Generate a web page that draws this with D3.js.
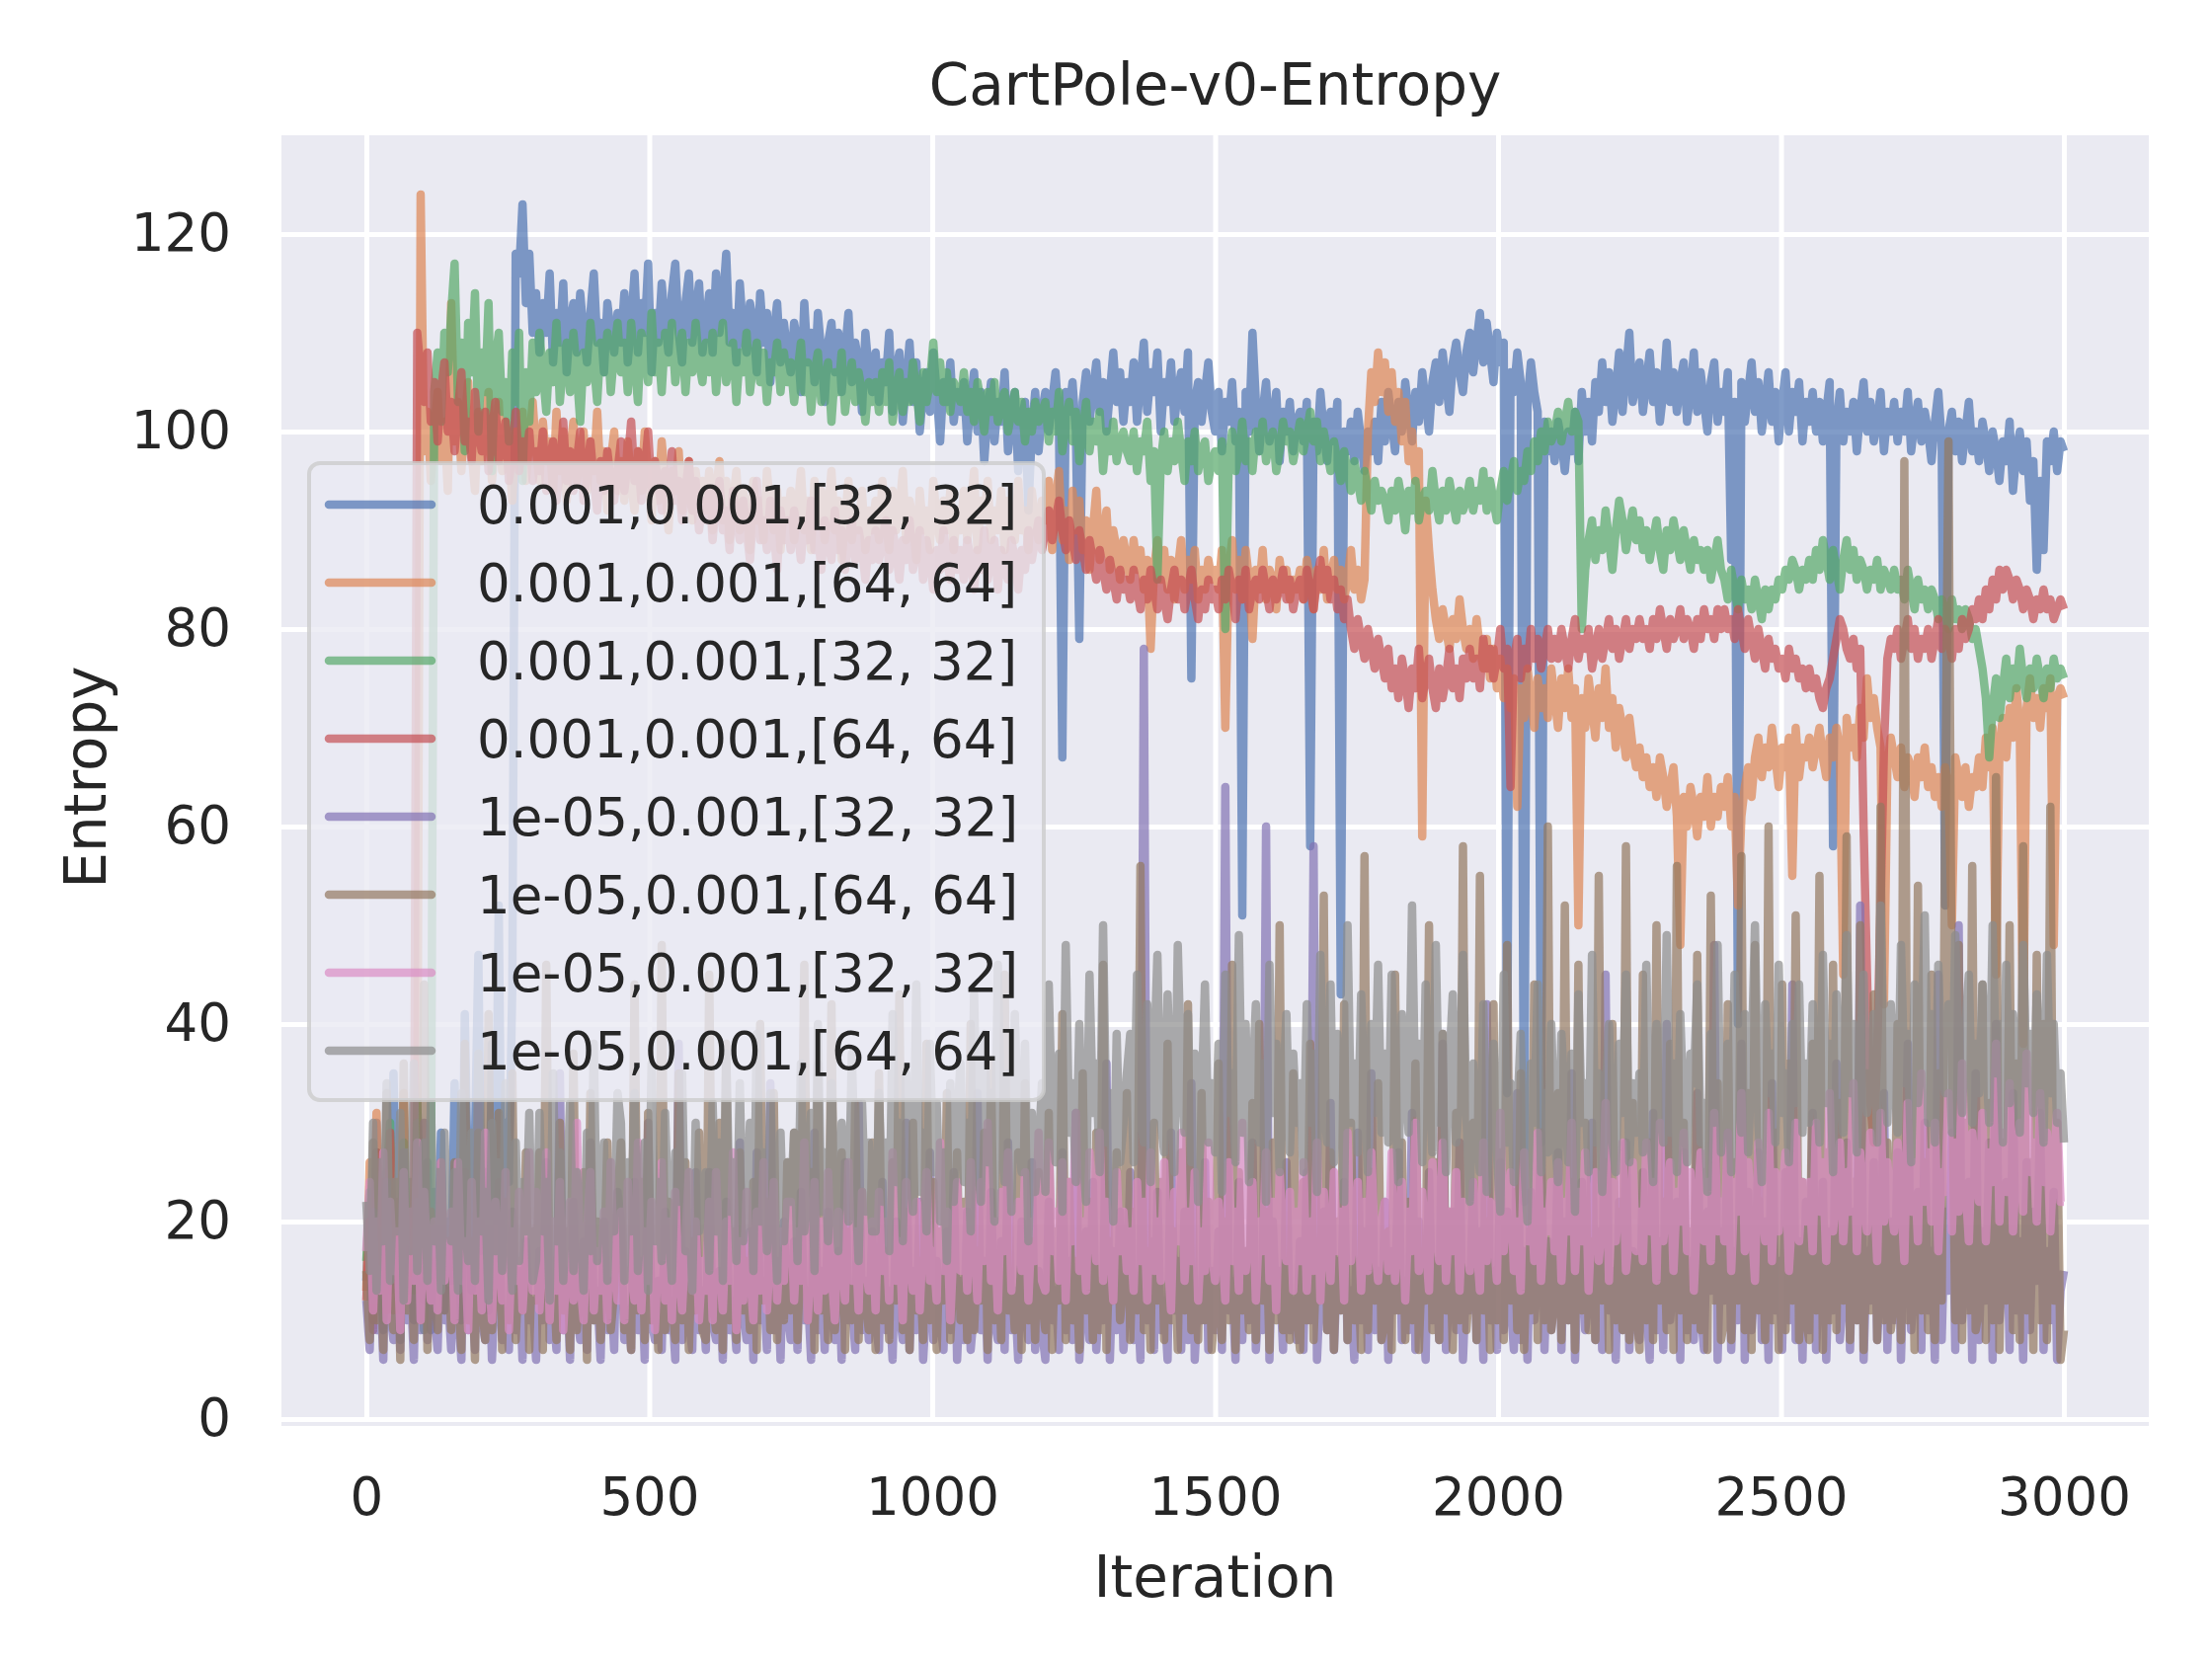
<!DOCTYPE html>
<html>
<head>
<meta charset="utf-8">
<script src="https://cdn.jsdelivr.net/npm/d3@7"></script>
<style>
body { margin: 0; background: #fff; }
text { font-family: "DejaVu Sans", sans-serif; fill: #262626; }
</style>
</head>
<body>
<script>
// one sample every 6 iterations, 0..3000; each row below = 150 iterations
const step = 6;

const labels = [
    "0.001,0.001,[32, 32]",
    "0.001,0.001,[64, 64]",
    "0.001,0.001,[32, 32]",
    "0.001,0.001,[64, 64]",
    "1e-05,0.001,[32, 32]",
    "1e-05,0.001,[64, 64]",
    "1e-05,0.001,[32, 32]",
    "1e-05,0.001,[64, 64]"
];

const colors = ["#4C72B0", "#DD8452", "#55A868", "#C44E52", "#8172B3", "#937860", "#DA8BC3", "#8C8C8C"];

const xTicks = [0, 500, 1000, 1500, 2000, 2500, 3000];
const yTicks = [0, 20, 40, 60, 80, 100, 120];

const blue = [
14,22,11,30,17,9,25,13,35,19,8,27,15,21,10,32,18,12,26,9,23,16,29,11,20,
14,34,18,10,41,22,13,28,47,17,25,11,38,20,52,15,30,24,44,118,116,123,113,118,110,
114,108,113,110,116,107,112,109,115,106,111,113,108,114,110,107,112,116,109,111,106,113,110,108,112,
109,114,107,111,116,108,113,110,117,106,112,109,115,111,108,114,117,110,107,113,116,109,112,115,108,
111,114,108,116,110,113,118,109,112,107,115,110,108,113,111,106,114,109,112,105,110,113,107,111,108,
106,111,109,104,113,107,110,105,112,108,103,109,111,106,110,104,108,112,105,109,107,102,110,106,104,
108,103,107,105,110,102,106,108,101,105,109,103,107,100,104,106,102,108,104,99,105,103,107,101,104,
102,105,99,103,106,100,104,97,102,105,99,103,101,106,98,102,104,96,101,103,92,100,104,98,102,
104,100,103,106,101,67,104,102,105,100,79,103,106,101,104,107,102,105,100,104,108,103,106,101,105,
103,107,101,105,109,102,106,104,108,100,105,103,107,101,104,106,102,108,75,103,105,101,104,107,102,
100,104,98,103,101,105,99,102,51,104,100,110,103,98,102,105,99,101,104,97,102,100,103,98,101,
102,99,103,58,101,98,104,100,97,102,99,103,43,100,98,101,97,102,99,96,100,98,101,97,103,
99,104,101,98,103,100,105,102,99,104,101,106,103,100,105,107,103,108,105,102,107,109,106,104,108,
110,106,109,112,107,111,108,105,110,107,109,33,106,104,108,105,22,103,107,104,102,28,101,98,100,
97,101,99,96,100,98,102,97,104,100,103,99,105,102,107,103,106,101,104,108,102,106,110,103,105,
107,102,105,108,103,106,101,104,109,103,106,102,105,107,101,104,108,102,106,103,100,105,107,101,104,
102,106,87,103,40,105,101,104,107,102,105,100,103,106,101,104,99,103,106,100,104,102,105,99,103,
101,104,100,103,99,102,105,58,101,104,99,102,100,103,98,102,105,100,103,99,101,104,98,102,100,
103,99,102,100,104,98,101,103,99,102,100,97,101,104,99,52,100,102,98,101,97,100,103,98,100,
97,101,99,96,100,98,95,99,97,101,94,98,100,96,99,93,97,86,95,88,99,97,100,96,99,
98
];

const orange = [
13,26,10,31,18,22,14,28,11,24,17,33,12,20,15,27,124,98,102,95,100,104,97,101,94,
113,99,103,96,101,105,98,94,102,97,100,104,95,99,103,96,101,98,93,100,97,102,95,99,103,
98,95,101,97,99,94,102,96,100,93,98,101,95,97,100,94,99,96,102,95,98,92,97,100,94,
97,93,99,95,92,98,94,100,96,91,97,93,99,95,90,96,94,98,92,95,97,91,96,93,95,
92,96,90,94,97,91,95,89,93,96,90,94,92,88,95,91,93,89,96,92,90,94,88,93,91,
94,89,92,96,90,93,88,95,91,94,89,92,96,90,93,87,91,95,89,92,90,94,88,92,90,
93,89,95,91,88,94,90,92,96,89,93,91,87,94,90,92,88,95,91,89,93,90,94,88,92,
90,94,89,92,96,88,93,91,95,89,92,90,94,88,93,91,89,95,90,92,88,94,91,89,93,
91,95,88,93,96,89,92,87,94,90,93,88,91,86,90,94,87,89,92,86,90,88,85,89,87,
85,89,86,88,84,87,78,86,89,85,88,84,87,83,86,89,84,87,85,88,83,86,84,87,85,
86,84,88,70,86,89,84,87,83,88,85,79,86,84,88,83,86,85,82,87,84,86,83,85,84,
86,83,87,85,82,86,84,88,83,85,87,84,86,83,85,88,84,86,83,85,100,106,103,108,104,
107,102,106,101,104,99,103,97,100,95,98,59,93,88,84,81,79,82,80,78,81,79,83,80,78,
80,77,81,78,76,79,75,78,74,77,73,76,72,75,62,74,71,76,73,70,75,72,74,71,76,
73,70,75,72,76,71,74,50,73,70,75,72,69,74,71,76,70,73,68,72,70,67,71,68,66,
68,65,67,64,66,63,67,65,62,64,66,61,48,63,60,64,62,59,63,61,65,60,63,61,64,
62,65,60,63,52,61,64,66,63,67,69,65,68,66,70,67,64,68,66,69,55,70,65,68,67,
69,66,68,70,67,65,69,67,70,68,45,71,68,70,67,72,69,75,71,73,70,68,42,66,69,
67,65,68,64,67,66,63,67,65,68,64,66,63,65,62,66,64,50,67,65,63,66,62,65,64,
67,64,69,66,70,45,68,71,67,72,69,74,70,38,72,75,71,73,70,74,72,75,48,73,74,
73
];

const green = [
16,23,12,27,19,10,25,30,14,21,11,28,18,24,13,32,17,9,26,20,104,108,101,110,106,
112,117,103,109,98,111,106,114,100,108,104,113,96,107,110,102,105,99,108,103,110,95,106,101,109,
104,110,106,102,108,105,111,103,107,109,104,110,106,101,108,105,111,107,103,109,106,110,104,108,111,
106,109,104,111,107,103,110,108,105,112,106,109,104,110,107,111,105,108,110,104,109,106,111,107,105,
109,106,110,104,108,111,105,107,109,103,108,106,110,104,107,109,105,108,103,107,106,109,104,108,105,
107,103,106,109,104,107,102,106,108,103,105,107,101,106,104,108,102,105,107,103,106,104,101,105,103,
105,102,106,103,107,101,104,106,102,105,103,107,104,101,106,103,105,109,104,107,103,106,102,105,104,
103,106,102,104,101,105,103,100,104,102,105,101,103,104,100,102,104,101,103,99,102,100,103,101,102,
103,99,102,100,104,98,101,103,99,102,97,100,103,98,101,99,102,96,100,98,101,97,99,100,98,
97,100,96,99,98,101,95,98,85,97,100,96,99,97,101,98,95,99,97,100,96,98,99,95,97,
98,96,99,80,97,100,96,98,101,97,99,96,100,98,101,97,99,100,96,98,101,99,100,97,99,
101,98,100,102,99,101,97,100,98,96,99,97,95,98,96,94,97,95,93,96,94,92,95,93,94,
93,91,94,92,95,93,90,94,92,95,91,93,94,92,96,93,91,94,92,95,93,91,94,92,93,
95,92,94,93,96,92,95,93,91,94,96,93,95,97,94,96,95,98,96,99,97,100,98,101,99,
100,102,99,101,103,100,102,101,80,86,89,91,87,90,88,92,89,86,90,93,91,88,90,92,89,
91,88,90,87,89,91,88,86,90,88,91,89,87,90,88,86,89,87,88,86,88,85,87,89,86,
85,83,86,84,82,85,83,84,82,85,83,81,84,82,84,83,85,84,86,85,87,86,84,86,85,
87,85,88,86,89,87,85,88,86,84,87,89,86,88,85,87,86,84,86,85,87,84,86,85,84,
86,84,85,83,86,84,82,85,83,84,82,84,83,81,83,82,80,83,81,82,80,82,81,79,80,
78,76,73,67,72,75,71,74,77,73,76,74,78,75,73,76,74,77,75,73,76,74,77,75,76,
75
];

const red = [
12,20,9,27,16,24,11,29,14,22,18,25,13,21,17,110,106,103,108,101,105,99,104,107,100,
103,98,102,106,99,101,97,104,100,98,102,96,100,103,97,99,101,95,98,102,96,99,97,100,95,
98,96,100,94,97,99,93,96,101,95,98,94,97,100,93,96,99,95,92,97,94,98,95,93,96,
99,94,97,101,95,98,93,96,100,94,97,95,92,96,94,98,93,95,91,94,97,92,95,90,93,
91,94,89,93,95,90,92,88,94,91,89,93,90,87,92,95,89,91,88,93,90,86,92,89,91,
88,92,90,87,91,89,93,88,90,86,91,89,87,92,88,90,86,89,91,87,90,88,85,89,87,
90,87,89,91,86,90,88,85,89,87,91,86,88,90,85,89,87,84,88,86,90,87,85,89,86,
88,85,89,87,84,88,86,90,85,87,89,84,88,86,85,89,87,84,88,86,90,87,89,91,88,
90,92,89,91,93,90,88,91,89,87,90,88,86,89,87,85,88,86,84,87,85,83,86,84,85,
83,86,84,82,85,83,86,84,82,85,83,81,84,86,83,85,82,84,86,83,81,84,82,85,83,
84,82,85,83,86,84,81,85,83,86,82,84,85,83,86,84,82,85,83,84,86,83,85,82,84,
85,83,86,84,82,85,87,84,86,83,85,82,84,81,83,80,78,81,79,77,80,78,76,79,77,
75,78,74,76,73,77,75,72,76,74,78,73,75,77,74,72,76,73,75,78,74,76,73,77,75,
78,75,77,74,79,76,78,75,77,80,76,78,64,77,79,75,78,76,80,77,79,76,78,80,77,
79,77,80,78,76,79,81,77,79,78,80,76,78,80,77,79,81,78,80,77,79,81,78,80,79,
81,79,80,78,81,79,82,80,78,81,79,80,82,79,81,80,78,81,79,82,80,81,79,82,80,
82,80,81,79,82,80,78,81,79,77,80,78,76,79,77,78,76,77,75,78,76,77,75,76,74,
76,74,75,73,72,74,75,77,79,81,80,78,77,79,76,78,60,45,32,28,37,52,68,77,79,
78,80,77,79,81,78,80,77,79,78,80,77,79,81,78,80,79,77,80,78,81,79,80,82,81,
83,81,84,82,85,83,86,84,86,85,83,85,84,82,84,83,81,83,82,84,82,83,81,82,83,
82
];

const purple = [
12,7,21,9,15,6,24,11,8,18,7,27,10,14,6,22,9,30,8,16,11,7,19,10,13,
7,20,11,6,25,9,13,7,32,10,8,19,6,14,24,8,11,7,21,9,15,6,18,10,12,
6,17,10,26,8,12,7,35,9,15,6,22,11,8,18,7,28,10,13,6,20,9,14,7,23,
20,8,11,7,24,9,16,6,30,10,8,14,7,21,9,12,6,38,8,17,10,7,25,9,13,
7,25,10,8,15,6,22,9,12,7,28,11,8,19,6,27,10,14,7,34,9,16,6,20,11,
8,18,7,23,10,13,6,29,9,15,7,21,11,8,17,6,26,10,12,7,32,9,14,8,19,
10,7,24,9,13,6,20,11,8,30,7,15,9,22,6,12,27,8,16,10,7,19,9,25,6,
14,8,21,7,11,33,9,16,6,23,10,8,18,7,28,9,13,6,20,11,8,26,7,15,9,
6,22,10,13,7,27,9,16,8,31,6,12,19,8,24,7,14,10,36,6,17,9,21,7,12,
25,8,14,6,78,10,18,7,23,9,12,6,29,11,16,7,21,8,34,6,13,10,26,7,15,
9,19,7,64,11,14,6,24,8,17,10,28,7,13,9,60,6,20,11,15,7,26,9,12,8,
18,7,25,10,58,6,14,21,9,32,7,16,11,24,8,13,6,29,10,19,7,35,9,15,8,
22,6,17,11,27,8,14,9,31,7,20,12,6,25,10,16,8,38,7,13,21,9,28,6,15,
11,24,8,19,6,42,10,15,7,26,9,21,12,7,33,8,17,6,23,10,14,29,7,18,9,
13,27,7,20,10,35,6,16,24,9,12,30,8,19,7,45,11,15,6,22,9,28,7,17,10,
8,25,12,6,31,9,18,7,40,10,14,22,6,27,9,16,8,33,11,7,21,13,48,6,19,
12,29,7,17,10,38,6,23,9,14,27,8,20,6,34,11,16,7,25,10,44,8,18,6,22,
9,31,7,15,24,6,19,11,36,8,13,28,7,21,10,52,6,17,12,26,8,14,33,7,20,
10,27,6,18,38,9,14,23,7,30,11,17,6,45,8,21,13,29,7,50,10,16,24,6,35,
8,19,12,28,6,40,10,15,24,7,33,11,18,6,26,9,21,14,31,7,17,10,23,6,13,
15
];

const brown = [
15,8,28,10,19,7,33,12,9,24,6,36,11,17,8,30,10,44,7,21,13,9,26,11,18,
9,26,13,7,38,10,18,6,29,12,8,41,9,15,31,7,22,10,35,8,16,11,27,7,19,
12,27,7,46,10,16,8,30,11,19,7,37,9,14,25,6,33,10,20,8,15,28,9,13,22,
28,9,15,7,44,11,24,8,31,10,17,7,48,9,22,12,8,35,10,26,7,18,11,29,9,
8,45,12,9,30,7,38,10,19,8,27,11,16,9,24,7,40,12,22,9,33,8,17,10,26,
11,29,8,18,46,10,25,7,36,11,20,8,42,9,14,27,7,19,10,32,8,23,12,9,28,
7,35,10,17,8,26,12,43,9,21,7,30,11,16,8,38,10,24,7,19,12,33,8,15,27,
10,22,8,40,9,17,12,29,7,36,10,20,8,45,11,15,9,27,7,34,10,18,8,25,12,
9,31,7,19,12,41,8,24,10,16,7,35,11,22,8,29,9,46,7,18,12,27,10,14,33,
8,21,11,56,9,17,7,30,12,24,8,38,10,19,7,27,11,42,9,15,8,33,10,22,7,
12,36,8,20,10,46,7,25,11,17,9,32,8,40,12,21,7,28,10,50,9,16,8,35,11,
7,24,10,38,8,18,12,53,9,27,7,20,11,42,8,30,10,16,7,57,9,25,12,34,8,
10,19,7,45,11,28,8,22,10,36,7,17,12,50,9,26,8,39,11,21,7,31,10,58,9,
14,30,8,55,11,20,7,42,10,27,8,48,12,23,9,35,7,19,11,44,8,29,10,60,9,
12,33,8,52,10,24,7,46,11,30,9,18,8,55,12,26,7,40,10,21,9,58,8,32,11,
7,45,10,28,8,50,12,22,9,38,7,56,11,30,8,19,10,47,9,25,7,53,12,34,8,
10,42,8,26,12,57,9,33,7,48,11,22,8,60,10,29,7,44,9,36,12,51,8,24,10,
8,38,11,55,7,27,10,46,9,32,12,59,8,24,10,50,7,35,11,43,8,62,10,28,9,
12,40,8,97,10,30,7,54,11,26,9,45,8,35,12,60,99,38,10,48,8,30,11,56,9,
11,44,8,32,10,65,7,28,12,50,9,36,8,58,11,26,7,47,10,40,8,62,12,30,6,
9
];

const pink = [
17,24,11,20,13,27,10,22,15,19,9,25,12,21,14,28,10,23,16,12,20,11,26,14,18,
21,10,26,14,18,9,24,13,20,11,29,15,10,22,17,12,25,9,19,14,23,11,17,27,13,
23,11,18,27,10,20,13,24,9,16,22,12,30,14,10,19,25,11,17,13,21,10,26,15,12,
21,10,24,15,12,28,11,19,14,22,9,17,26,12,20,10,23,15,11,18,25,13,20,10,16,
13,22,10,25,16,11,20,14,27,9,18,12,23,15,10,21,13,26,11,17,24,12,19,14,22,
22,12,19,14,28,10,16,24,11,20,13,25,15,10,21,17,12,26,14,19,11,23,16,13,20,
11,23,15,20,12,27,14,18,10,24,16,13,22,11,19,25,14,17,12,28,15,21,10,18,24,
15,21,13,26,18,12,24,16,30,14,20,11,23,17,27,13,19,22,15,25,12,20,16,29,14,
13,28,17,21,14,26,12,24,18,31,15,20,13,27,19,16,29,14,22,18,12,25,17,21,15,
19,13,24,16,22,12,27,15,20,14,26,17,11,23,18,29,14,21,16,25,12,19,15,28,17,
14,22,18,12,26,16,21,13,30,15,19,24,12,20,17,27,14,22,11,25,18,16,23,13,21,
16,26,13,20,15,28,12,23,18,14,25,17,21,12,29,16,19,24,13,22,15,27,18,14,20,
22,15,27,14,19,24,12,21,17,30,15,23,18,13,26,20,16,28,14,21,17,25,13,22,19,
15,24,18,13,28,16,22,19,14,31,17,21,25,15,20,13,27,18,23,16,29,14,21,19,24,
17,26,14,22,19,30,15,23,18,27,13,21,25,16,20,32,14,24,18,22,28,15,19,26,17,
21,16,28,19,24,14,30,18,22,26,15,23,20,29,17,25,13,21,27,18,24,16,31,19,22,
18,29,15,24,21,33,17,26,20,14,28,22,18,31,16,25,19,23,27,15,21,30,18,24,20,
24,17,30,21,26,16,33,19,23,28,18,25,21,34,17,27,22,19,29,24,16,31,20,26,22,
19,28,23,16,32,21,26,18,35,22,27,20,30,17,25,23,33,19,28,21,36,24,18,29,25,
22,31,18,27,24,38,20,29,23,34,19,26,30,21,37,25,28,20,33,24,29,19,26,31,22,
22
];

const gray = [
22,15,30,13,26,18,34,14,24,19,31,12,27,17,36,15,23,28,14,32,18,25,13,29,20,
18,25,13,33,20,16,29,14,37,19,23,12,30,17,26,15,34,21,13,28,16,24,19,31,14,
16,31,19,24,12,35,18,27,14,22,32,15,25,20,13,29,17,38,16,23,28,14,26,19,33,
30,14,26,19,33,15,21,28,13,36,18,24,16,31,20,14,27,22,35,17,25,13,30,19,23,
25,15,32,19,28,14,37,21,26,16,34,18,23,30,15,39,20,27,17,33,22,14,29,18,26,
22,29,16,36,19,25,31,15,40,21,27,18,34,23,17,30,26,20,37,24,16,32,21,28,19,
19,33,22,28,17,41,24,30,18,35,26,21,44,23,29,19,38,25,32,20,27,16,34,22,30,
36,24,30,19,43,27,22,39,26,33,20,46,28,24,35,21,41,29,25,38,18,31,23,27,34,
23,44,30,26,37,21,48,29,34,24,40,27,22,45,31,36,25,50,28,33,20,39,26,30,35,
39,26,45,31,28,42,24,36,47,30,27,43,33,25,48,35,29,41,26,37,22,32,44,28,34,
27,38,23,45,31,35,26,49,29,40,24,34,42,28,36,22,46,31,38,25,33,41,27,37,30,
34,25,42,30,37,23,47,32,28,44,26,39,35,22,50,30,36,27,43,33,25,40,31,46,29,
37,28,45,32,24,41,35,29,52,31,38,26,44,34,27,48,30,39,25,36,43,28,33,47,31,
22,36,29,25,42,23,32,38,27,21,45,28,34,24,31,39,26,20,36,30,44,25,33,27,40,
29,24,39,32,26,37,21,43,30,34,25,47,28,35,23,32,40,28,25,38,31,45,26,34,29,
35,27,46,30,24,40,33,28,49,29,36,25,41,31,26,37,34,44,28,32,23,39,30,48,27,
32,38,25,45,34,29,41,27,36,50,30,24,42,33,37,28,46,31,35,26,40,32,44,29,36,
30,42,35,28,47,32,38,25,43,35,29,49,33,40,27,37,45,31,34,41,28,52,36,30,42,
35,29,48,34,39,26,44,32,37,51,30,41,28,46,35,33,42,29,49,36,31,40,45,30,38,
33,44,37,30,50,35,40,28,46,32,41,36,29,48,34,39,31,43,36,28,47,33,40,30,35,
28
];

const series = [blue, orange, green, red, purple, brown, pink, gray];

const w = 2240;
const h = 1680;
const plotLeft = 285, plotRight = 2176, plotTop = 137, plotBottom = 1437;

const xScale = d3.scaleLinear()
    .domain([-150, 3150])
    .range([plotLeft, plotRight]);

const yScale = d3.scaleLinear()
    .domain([0, 130])
    .range([plotBottom, plotTop]);

const svg = d3.select("body")
    .append("svg")
    .attr("width", w)
    .attr("height", h);

svg.append("rect")
    .attr("x", plotLeft)
    .attr("y", plotTop)
    .attr("width", plotRight - plotLeft)
    .attr("height", plotBottom - plotTop + 7)
    .attr("fill", "#EAEAF2");

svg.append("clipPath")
    .attr("id", "plot-clip")
    .append("rect")
    .attr("x", plotLeft)
    .attr("y", plotTop)
    .attr("width", plotRight - plotLeft)
    .attr("height", plotBottom - plotTop);

// grid
const xGrid = d3.axisBottom(xScale).tickValues(xTicks).tickSize(-(plotBottom - plotTop)).tickFormat("");
const yGrid = d3.axisLeft(yScale).tickValues(yTicks).tickSize(-(plotRight - plotLeft)).tickFormat("");

svg.append("g")
    .attr("transform", "translate(0," + plotBottom + ")")
    .call(xGrid)
    .call(g => g.select(".domain").remove())
    .selectAll("line")
    .attr("stroke", "#fff")
    .attr("stroke-width", 5);

svg.append("g")
    .attr("transform", "translate(" + plotLeft + ",0)")
    .call(yGrid)
    .call(g => g.select(".domain").remove())
    .selectAll("line")
    .attr("stroke", "#fff")
    .attr("stroke-width", 5);

// lines
const line = d3.line()
    .x((d, i) => xScale(i * step))
    .y((d) => yScale(d));

svg.append("g")
    .attr("clip-path", "url(#plot-clip)")
    .selectAll("path")
    .data(series)
    .enter()
    .append("path")
    .attr("d", (d) => line(d))
    .attr("fill", "none")
    .attr("stroke", (d, i) => colors[i])
    .attr("stroke-opacity", 0.7)
    .attr("stroke-width", 8.5)
    .attr("stroke-linejoin", "round");

// tick labels
const xAxis = d3.axisBottom(xScale).tickValues(xTicks).tickSize(0).tickPadding(59).tickFormat(d3.format("d"));
const yAxis = d3.axisLeft(yScale).tickValues(yTicks).tickSize(0).tickPadding(51).tickFormat(d3.format("d"));

svg.append("g")
    .attr("transform", "translate(0," + plotBottom + ")")
    .call(xAxis)
    .call(g => g.select(".domain").remove())
    .selectAll("text")
    .attr("font-size", 53)
    .attr("font-family", "DejaVu Sans")
    .attr("fill", "#262626");

svg.append("g")
    .attr("transform", "translate(" + plotLeft + ",0)")
    .call(yAxis)
    .call(g => g.select(".domain").remove())
    .selectAll("text")
    .attr("font-size", 53)
    .attr("font-family", "DejaVu Sans")
    .attr("fill", "#262626");

// labels and title
svg.append("text")
    .attr("x", (plotLeft + plotRight) / 2)
    .attr("y", 1617)
    .attr("text-anchor", "middle")
    .attr("font-size", 58)
    .text("Iteration");

svg.append("text")
    .attr("transform", "translate(107," + ((plotTop + plotBottom) / 2) + ") rotate(-90)")
    .attr("text-anchor", "middle")
    .attr("font-size", 58)
    .text("Entropy");

svg.append("text")
    .attr("x", (plotLeft + plotRight) / 2)
    .attr("y", 106)
    .attr("text-anchor", "middle")
    .attr("font-size", 58)
    .text("CartPole-v0-Entropy");

// legend
const legend = svg.append("g");

legend.append("rect")
    .attr("x", 313)
    .attr("y", 469)
    .attr("width", 744)
    .attr("height", 645)
    .attr("rx", 11)
    .attr("fill", "#EAEAF2")
    .attr("fill-opacity", 0.8)
    .attr("stroke", "#CCCCCC")
    .attr("stroke-opacity", 0.8)
    .attr("stroke-width", 4);

const entries = legend.selectAll("g.entry")
    .data(labels)
    .enter()
    .append("g")
    .attr("class", "entry")
    .attr("transform", (d, i) => "translate(0," + (511 + i * 79) + ")");

entries.append("line")
    .attr("x1", 333)
    .attr("x2", 437)
    .attr("stroke", (d, i) => colors[i])
    .attr("stroke-opacity", 0.7)
    .attr("stroke-width", 8.5)
    .attr("stroke-linecap", "round");

entries.append("text")
    .attr("x", 483)
    .attr("y", 19)
    .attr("font-size", 53)
    .text((d) => d);
</script>
</body>
</html>
